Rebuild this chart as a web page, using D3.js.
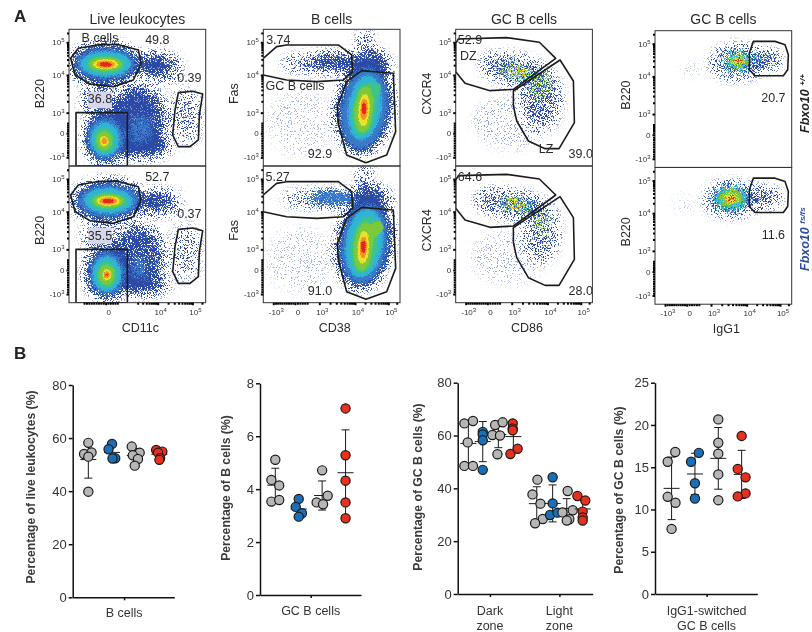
<!DOCTYPE html>
<html>
<head>
<meta charset="utf-8">
<script src="https://cdn.jsdelivr.net/npm/d3@7"></script>
<style>
  body { margin: 0; background: #fff; }
  svg { display: block; font-family: "Liberation Sans", Arial, sans-serif; filter: blur(0.3px); }
</style>
</head>
<body>
<svg class="vis" width="812" height="632"></svg>
<script>

// ---- flow plots: everything is in display channels, 0-410 on both axes

const band_colors = ["#2b4aa6", "#3a78c8", "#30b4d6", "#3cc48c", "#7cc93c", "#ece22a", "#f39222", "#e6261c"];
const band_blur   = [6, 4.5, 3.5, 3, 2.5, 2.2, 1.8, 1.4];
const band_grain  = [1, .7, .45, .35, .35, .3, .3, .3];
const band_floor  = [1, .8, .82, .78, .78, .75, .75, .75];

// [cx, cy, rx, ry, rotation, band, density]
const clouds_leuko_wt = [
  [350, 150, 58, 100, 0, 0, .07], [280, 295, 52, 38, 0, 0, .55], [205, 135, 80, 105, 0, 0, .8],
  [225, 58, 75, 28, 0, 0, .85], [90, 195, 50, 52, 0, 0, .4], [350, 150, 34, 72, 0, 0, .25],
  [215, 110, 34, 50, 0, 1, .55], [250, 305, 46, 25, 0, 0, .9],
  [110, 305, 100, 57, 0, 0, 1], [110, 306, 88, 44, 0, 1, 1], [110, 306, 78, 38, 0, 2, 1],
  [110, 305, 62, 27, 0, 3, 1], [110, 305, 52, 21, 0, 4, 1], [110, 305, 40, 15, 0, 5, 1],
  [110, 305, 30, 11, 0, 6, 1], [110, 305, 21, 7, 0, 7, 1],
  [112, 85, 62, 72, 0, 0, 1], [110, 82, 52, 60, 0, 1, 1], [108, 80, 44, 52, 0, 2, 1],
  [106, 78, 32, 40, 0, 3, 1], [106, 76, 25, 30, 0, 4, 1], [106, 75, 14, 18, 0, 5, 1],
  [106, 75, 9, 11, 0, 6, 1], [106, 74, 5, 6, 0, 7, .9]
];
const clouds_leuko_ko = [
  [350, 150, 58, 100, 0, 0, .07], [282, 300, 50, 36, 0, 0, .45], [205, 135, 78, 100, 0, 0, .68],
  [225, 55, 72, 26, 0, 0, .7], [90, 200, 50, 48, 0, 0, .3], [350, 150, 34, 72, 0, 0, .2],
  [210, 105, 26, 38, 0, 1, .55], [248, 305, 46, 24, 0, 0, .8],
  [118, 305, 100, 57, 0, 0, 1], [118, 306, 90, 46, 0, 1, 1], [118, 306, 76, 38, 0, 2, 1],
  [118, 305, 60, 27, 0, 3, 1], [118, 305, 50, 21, 0, 4, 1], [118, 305, 38, 15, 0, 5, 1],
  [118, 305, 29, 11, 0, 6, 1], [118, 305, 20, 7, 0, 7, 1],
  [115, 90, 62, 74, 0, 0, 1], [113, 88, 50, 62, 0, 1, 1], [113, 86, 44, 54, 0, 2, 1],
  [113, 84, 32, 42, 0, 3, 1], [113, 84, 25, 32, 0, 4, 1], [113, 84, 14, 19, 0, 5, 1],
  [113, 84, 9, 12, 0, 6, 1], [113, 84, 6, 7, 0, 7, .9]
];
const clouds_fas_wt = [
  [110, 130, 100, 100, 0, 0, .06], [190, 308, 135, 24, 0, 0, .42], [215, 312, 62, 19, 0, 0, .95],
  [322, 303, 55, 38, 0, 0, .8], [305, 365, 20, 42, 0, 0, .4],
  [303, 175, 78, 135, 8, 0, 1], [303, 172, 66, 120, 8, 1, 1], [304, 175, 50, 100, 8, 2, 1],
  [302, 170, 36, 82, 8, 3, 1], [338, 228, 18, 24, 20, 3, .9], [302, 170, 28, 72, 6, 4, 1],
  [302, 168, 17, 52, 4, 5, 1], [302, 170, 11, 34, 3, 6, 1], [302, 172, 7, 21, 0, 7, 1]
];
const clouds_fas_ko = [
  [110, 130, 100, 100, 0, 0, .06], [190, 312, 130, 22, 0, 0, .42], [205, 315, 75, 20, 0, 1, .75],
  [322, 308, 55, 38, 0, 0, .8], [305, 368, 20, 42, 0, 0, .4],
  [303, 178, 78, 132, 8, 0, 1], [303, 176, 66, 118, 8, 1, 1], [303, 178, 56, 105, 8, 2, 1],
  [303, 172, 40, 88, 8, 3, 1], [340, 222, 20, 26, 20, 4, .9], [300, 168, 28, 75, 6, 4, 1],
  [300, 166, 17, 52, 4, 5, 1], [300, 166, 11, 34, 3, 6, 1], [300, 168, 7, 22, 0, 7, 1]
];
const clouds_cxcr4_wt = [
  [165, 130, 115, 80, 0, 0, .08], [175, 288, 100, 42, 12, 0, .42], [258, 200, 55, 90, 0, 0, .38],
  [185, 284, 60, 24, 15, 2, .2], [185, 284, 55, 20, 15, 4, .3], [253, 240, 32, 42, 0, 4, .26],
  [185, 282, 34, 14, 15, 5, .3], [188, 280, 20, 9, 15, 6, .36]
];
const clouds_cxcr4_ko = [
  [160, 135, 115, 80, 0, 0, .07], [165, 296, 105, 38, 8, 0, .44], [258, 215, 50, 85, 0, 0, .34],
  [180, 295, 60, 22, 12, 2, .2], [185, 292, 52, 20, 12, 4, .3], [258, 240, 28, 36, 0, 4, .24],
  [185, 295, 30, 13, 12, 5, .32], [188, 293, 18, 9, 12, 6, .38]
];
const clouds_igg_wt = [
  [115, 293, 35, 15, 0, 0, .08], [245, 315, 75, 48, 0, 0, .42], [325, 322, 50, 26, 0, 0, .55],
  [250, 318, 44, 28, 0, 2, .6], [325, 322, 32, 16, 0, 3, .26], [250, 318, 30, 20, 0, 4, .75],
  [250, 318, 17, 12, 0, 5, .8], [250, 318, 9, 6, 0, 7, .6]
];
const clouds_igg_ko = [
  [90, 300, 35, 25, 0, 0, .05], [228, 315, 75, 48, 0, 0, .5], [325, 320, 52, 26, 0, 0, .48],
  [228, 318, 52, 34, 0, 2, .9], [228, 318, 34, 25, 0, 4, 1],
  [228, 318, 19, 15, 0, 5, 1], [228, 318, 10, 8, 0, 7, .75]
];

const gate_bcell = [[5,323],[28,353],[83,363],[143,365],[208,348],[216,308],[193,258],[133,238],[63,246],[18,273]];
const gate_dc    = [[328,220],[371,224],[401,216],[391,153],[388,78],[363,58],[328,58],[311,93],[318,168]];
const gate_rest  = [[21,0],[21,160],[175,160],[175,0]];
const gate_gc    = [[0,323],[40,358],[70,363],[225,363],[265,333],[268,283],[240,258],[160,253],[70,258],[0,273]];
const gate_nongc = [[295,286],[390,278],[397,103],[370,33],[308,10],[250,33],[225,128],[222,178],[250,253]];
const gate_dz    = [[8,381],[153,385],[251,371],[300,323],[173,230],[103,226],[28,248],[0,283],[0,368]];
const gate_lz    = [[173,225],[313,318],[353,255],[356,130],[310,52],[268,52],[218,75],[183,135],[173,180]];
const gate_igg   = [[295,378],[360,378],[390,368],[400,338],[398,293],[385,275],[300,275],[283,293],[283,343]];

// [text, x channel, y channel]
const notes_leuko_wt = [["B cells", 93, 386], ["49.8", 265, 380], ["0.39", 361, 266], ["36.8", 93, 202]];
const notes_leuko_ko = [["52.7", 265, 380], ["0.37", 361, 267], ["35.5", 93, 203]];
const notes_fas_wt   = [["3.74", 45, 378], ["GC B cells", 95, 240], ["92.9", 170, 38]];
const notes_fas_ko   = [["5.27", 43, 380], ["91.0", 170, 38]];
const notes_cx_wt    = [["52.9", 43, 378], ["DZ", 38, 330], ["LZ", 271, 51], ["39.0", 375, 36]];
const notes_cx_ko    = [["64.6", 43, 380], ["28.0", 375, 37]];
const notes_igg_wt   = [["20.7", 355, 211]];
const notes_igg_ko   = [["11.6", 355, 210]];

const y_tick_values = [-1000, 0, 1000, 10000, 100000];
const x_ticks_cd11c = [0, 10000, 100000];
const x_ticks_full  = [-1000, 0, 1000, 10000, 100000];

// ---- dot plots, dodge is in dot radii

const colors_group = ["#b6b6b6", "#1b6fb8", "#b6b6b6", "#e8301f"];

const pct_bcells = [[58.2, 54, 54.6, 53, 39.8], [57.8, 55.8, 52.4, 52.3], [56.8, 54.5, 53.5, 52.1, 49.6], [55.5, 54.9, 54.5, 52.4, 51.8]];
const dodge_bcells = [[0, -.93, .7, 0, 0], [0, -.75, .7, .1], [-.65, 1.07, -.43, .7, 0], [-.7, .65, -.3, .15, 0]];
const mean_bcells = [51.9, 54.6, 53.4, 53.9];
const sd_bcells = [7, 2.6, 2.7, 1.7];

const pct_gc = [[5.11, 4.35, 4.14, 3.53, 3.59], [3.63, 3.33, 3.09, 2.96], [4.71, 3.75, 3.5, 3.43], [7.05, 5.28, 4.32, 3.5, 2.9]];
const dodge_gc = [[0, -.85, .85, -.85, .85], [0, -.65, .7, 0], [0, 1.2, -1.2, .2], [0, 0, 0, 0, 0]];
const mean_gc = [4.15, 3.25, 3.76, 4.62];
const sd_gc = [.64, .32, .55, 1.62];

const pct_zone = [
  [64.6, 65.5, 57.4, 48.5, 48.5], [61.4, 60.4, 58.2, 47], [64, 65, 60.2, 60, 52.9], [64.6, 62.7, 62, 53, 55],
  [43.3, 37.7, 34.2, 28.4, 26.8], [44.2, 34.3, 29.9, 30.8], [39, 31.7, 30.9, 28.3, 27.8], [37.1, 35.4, 31.2, 29, 27.8]
];
const dodge_zone = [
  [-.86, 1, -.14, -.86, 1], [0, 0, 0, 0], [-.7, .93, -1.3, .36, -.2], [-.14, -.14, -.14, -.64, .93],
  [.14, -.93, .8, 1.3, -.36], [0, 0, -.57, 1.07], [.2, 1.3, -.93, .57, 0], [-1.14, .57, 0, 0, 0]
];
const mean_zone = [57, 57.7, 60.4, 59.6, 34.2, 34.3, 32.4, 32.2];
const sd_zone = [8.5, 7.6, 5, 5.7, 6.4, 7, 3.7, 4.5];

const pct_igg = [[16.8, 15.65, 11.5, 10.8, 7.7], [16.7, 15.65, 13.1, 11.3], [20.66, 17.9, 16.6, 14.15, 11.1], [18.7, 14.8, 13.8, 11.9, 11.55]];
const dodge_igg = [[.8, -.85, -.85, .85, 0], [.85, -.85, 0, 0], [0, 0, 0, 0, 0], [0, -.85, .85, .85, -.85]];
const mean_igg = [12.5, 14.2, 16.05, 14.15];
const sd_igg = [3.7, 2.45, 3.65, 2.85];

const vis = {

  dims: { chan: 410, size: 136.7, r: 4.6 },

  sels: { svg: null, defs: null },

  flow: [
    { x: 69,    y: 29.3, xlab: "CD11c", ylab: "B220",  title: "Live leukocytes", clouds: clouds_leuko_wt, gates: [gate_bcell, gate_dc, gate_rest], notes: notes_leuko_wt, lavender: [58, 128, 173, 223] },
    { x: 69,    y: 166,  xlab: "CD11c", ylab: "B220",  clouds: clouds_leuko_ko, gates: [gate_bcell, gate_dc, gate_rest], notes: notes_leuko_ko, lavender: [58, 128, 177, 225], xticks: x_ticks_cd11c },
    { x: 263.3, y: 29.3, xlab: "CD38",  ylab: "Fas",   title: "B cells", clouds: clouds_fas_wt, gates: [gate_gc, gate_nongc], notes: notes_fas_wt },
    { x: 263.3, y: 166,  xlab: "CD38",  ylab: "Fas",   clouds: clouds_fas_ko, gates: [gate_gc, gate_nongc], notes: notes_fas_ko, xticks: x_ticks_full },
    { x: 455.7, y: 29.3, xlab: "CD86",  ylab: "CXCR4", title: "GC B cells", sparse: true, clouds: clouds_cxcr4_wt, gates: [gate_dz, gate_lz], notes: notes_cx_wt },
    { x: 455.7, y: 166,  xlab: "CD86",  ylab: "CXCR4", sparse: true, clouds: clouds_cxcr4_ko, gates: [gate_dz, gate_lz], notes: notes_cx_ko, xticks: x_ticks_full },
    { x: 655,   y: 30.7, xlab: "IgG1",  ylab: "B220",  title: "GC B cells", sparse: true, clouds: clouds_igg_wt, gates: [gate_igg], notes: notes_igg_wt },
    { x: 655,   y: 167.5, xlab: "IgG1", ylab: "B220",  sparse: true, clouds: clouds_igg_ko, gates: [gate_igg], notes: notes_igg_ko, xticks: x_ticks_full }
  ],

  dots: [
    { values: pct_bcells, dodge: dodge_bcells, mean: mean_bcells, sd: sd_bcells, slots: [0, 1, 1.96, 3], colors: colors_group,
      title: "Percentage of live leukocytes (%)", tx: 35, ty: 487,
      y: { max: 80, ticks: [0, 20, 40, 60, 80], top: 385, bottom: 597.3 },
      x: { domain: [-.66, 3.63], range: [72.7, 174.3] }, cats: [[1.51, ["B cells"]]], cy: 612.5 },
    { values: pct_gc, dodge: dodge_gc, mean: mean_gc, sd: sd_gc, slots: [0, 1, 2, 3], colors: colors_group,
      title: "Percentage of B cells (%)", tx: 230, ty: 488,
      y: { max: 8, ticks: [0, 2, 4, 6, 8], top: 383.3, bottom: 595 },
      x: { domain: [-.654, 3.66], range: [260, 361] }, cats: [[1.51, ["GC B cells"]]], cy: 610 },
    { values: pct_zone, dodge: dodge_zone, mean: mean_zone, sd: sd_zone, slots: [0, .96, 2, 3, 4.56, 5.62, 6.56, 7.62],
      colors: colors_group.concat(colors_group),
      title: "Percentage of GC B cells (%)", tx: 422.3, ty: 487,
      y: { max: 80, ticks: [0, 20, 40, 60, 80], top: 382.7, bottom: 594 },
      x: { domain: [-.71, 8.29], range: [457.7, 592.7] }, cats: [[1.44, ["Dark", "zone"]], [6.07, ["Light", "zone"]]], cy: 610 },
    { values: pct_igg, dodge: dodge_igg, mean: mean_igg, sd: sd_igg, slots: [0, 1, 2, 3], colors: colors_group,
      title: "Percentage of GC B cells (%)", tx: 622.7, ty: 490,
      y: { max: 25, ticks: [0, 5, 10, 15, 20, 25], top: 382.7, bottom: 594 },
      x: { domain: [-.71, 3.67], range: [655, 757.3] }, cats: [[1.5, ["IgG1-switched", "GC B cells"]]], cy: 610 }
  ],

  init: function() {

    vis.sels.svg = d3.select("svg.vis");
    vis.sels.defs = vis.sels.svg.append("defs");

    vis.f.make_grain("grain", band_grain, band_floor);
    vis.f.make_grain("speck", band_grain.map(() => 1), band_floor.map(() => 1));
    vis.flow.forEach(vis.draw.flow_panel);
    vis.dots.forEach(vis.draw.dot_panel);
    vis.draw.headings();

  },

  f: {

    // dotty look of the flow plots: blurred density + noise, thresholded
    make_grain: function(name, amounts, floors) {

      band_colors.forEach((color, i) => {

        let filter = vis.sels.defs.append("filter")
          .attr("id", name + i)
          .attr("x", "-100%").attr("y", "-100%")
          .attr("width", "300%").attr("height", "300%")
          .attr("color-interpolation-filters", "sRGB");

        filter.append("feGaussianBlur")
          .attr("in", "SourceGraphic").attr("stdDeviation", band_blur[i]).attr("result", "soft");

        filter.append("feTurbulence")
          .attr("type", "fractalNoise").attr("baseFrequency", 1.3).attr("numOctaves", 1)
          .attr("seed", 3 + i * 5).attr("result", "noise");

        filter.append("feColorMatrix")
          .attr("in", "noise").attr("type", "matrix")
          .attr("values", "0 0 0 0 0 0 0 0 0 0 0 0 0 0 0 3.5 0 0 0 -1.25")
          .attr("result", "dither");

        filter.append("feComposite")
          .attr("in", "soft").attr("in2", "dither").attr("operator", "arithmetic")
          .attr("k1", 0).attr("k2", 1.4).attr("k3", amounts[i]).attr("k4", -floors[i])
          .attr("result", "sum");

        let steep = filter.append("feComponentTransfer").attr("in", "sum").attr("result", "mask");
        steep.append("feFuncA").attr("type", "linear").attr("slope", 5);

        filter.append("feFlood").attr("flood-color", color).attr("result", "paint");
        filter.append("feComposite").attr("in", "paint").attr("in2", "mask").attr("operator", "in").attr("result", "dots");
        filter.append("feGaussianBlur").attr("in", "dots").attr("stdDeviation", .35);

      });

    },

    // biexponential display: linear around 0, log above 10^3
    to_channel: function(stops) {

      let lin = d3.scaleLinear().domain([-1000, 0, 1000]).range([stops[0], stops[1], stops[2]]);
      let log = d3.scaleLog().domain([1000, 10000, 100000, 262144]).range([stops[2], stops[3], stops[4], 410]);
      return v => v <= 1000 ? lin(v) : log(v);

    },

    minor_values: function() {

      let out = [-900, -800, -700, -600, -500, -400, -300, -200, -100, 100, 200, 300, 400, 500];
      [1000, 10000, 100000].forEach(dec => d3.range(2, 10).forEach(m => {
        if (dec * m < 262144) out.push(dec * m);
      }));
      return out;

    },

    power_label: function(sel, v) {

      sel.text(null);
      if (v === 0) { sel.text("0"); return; }
      sel.append("tspan").text((v < 0 ? "-" : "") + "10");
      sel.append("tspan").attr("dy", -3).attr("font-size", 6).text(Math.round(Math.log10(Math.abs(v))));

    }

  },

  draw: {

    flow_panel: function(p, i) {

      let svg = vis.sels.svg;
      let d = vis.dims;

      let x = d3.scaleLinear().domain([0, d.chan]).range([p.x, p.x + d.size]);
      let y = d3.scaleLinear().domain([0, d.chan]).range([p.y + d.size, p.y]);

      let clip = "panel" + i;
      vis.sels.defs.append("clipPath").attr("id", clip)
        .append("rect").attr("x", p.x).attr("y", p.y).attr("width", d.size).attr("height", d.size);

      let plot = svg.append("g").attr("clip-path", `url(#${clip})`);

      d3.range(band_colors.length).forEach(band => {

        let rows = p.clouds.filter(c => c[5] === band);
        if (!rows.length) return;

        plot.append("g")
          .attr("filter", `url(#${p.sparse ? "speck" : "grain"}${band})`)
          .selectAll("ellipse")
          .data(rows)
          .join("ellipse")
          .attr("cx", c => x(c[0]))
          .attr("cy", c => y(c[1]))
          .attr("rx", c => x(c[2]) - x(0))
          .attr("ry", c => y(0) - y(c[3]))
          .attr("transform", c => `rotate(${c[4]} ${x(c[0])} ${y(c[1])})`)
          .attr("fill", "#000")
          .attr("fill-opacity", c => c[6]);

      });

      if (p.lavender) {
        plot.append("rect")
          .attr("x", x(p.lavender[0])).attr("y", y(p.lavender[3]))
          .attr("width", x(p.lavender[1]) - x(p.lavender[0]))
          .attr("height", y(p.lavender[2]) - y(p.lavender[3]))
          .attr("fill", "#d6d7ec");
      }

      let outline = d3.line().x(g => x(g[0])).y(g => y(g[1])).curve(d3.curveLinearClosed);

      plot.selectAll("path.gate")
        .data(p.gates)
        .join("path")
        .attr("class", "gate")
        .attr("d", outline)
        .attr("fill", "none")
        .attr("stroke", "#1c1c1c")
        .attr("stroke-width", 1.6)
        .attr("stroke-linejoin", "round");

      plot.selectAll("text.note")
        .data(p.notes)
        .join("text")
        .attr("class", "note")
        .attr("x", n => x(n[1]))
        .attr("y", n => y(n[2]))
        .attr("text-anchor", "middle")
        .attr("dy", "0.36em")
        .attr("font-size", 12.5)
        .attr("fill", "#2a2a2a")
        .text(n => n[0]);

      svg.append("rect")
        .attr("x", p.x).attr("y", p.y).attr("width", d.size).attr("height", d.size)
        .attr("fill", "none").attr("stroke", "#333").attr("stroke-width", 1);

      // axes
      let y_chan = vis.f.to_channel([26, 98, 160, 273, 371]);
      let x_chan = p.xlab === "CD11c"
        ? vis.f.to_channel([38, 110, 180, 266, 370])
        : vis.f.to_channel([30, 95, 168, 275, 375]);
      let minor = vis.f.minor_values();

      let y_axis = svg.append("g").attr("transform", `translate(${p.x},0)`)
        .call(d3.axisLeft(y).tickValues(minor.map(y_chan)).tickSize(2).tickFormat(""));
      y_axis.append("g")
        .call(d3.axisLeft(y).tickValues(y_tick_values.map(y_chan)).tickSize(2.5).tickPadding(2)
          .tickFormat((_, k) => ""))
        .selectAll("text")
        .attr("font-size", 8).attr("fill", "#333")
        .each(function(_, k) { vis.f.power_label(d3.select(this), y_tick_values[k]); });
      y_axis.selectAll(".domain").remove();
      y_axis.selectAll("line").attr("stroke", "#000").attr("stroke-width", 1);
      y_axis.selectAll("g g line").attr("stroke-width", 2);

      if (p.xticks) {

        let x_axis = svg.append("g").attr("transform", `translate(0,${p.y + d.size})`)
          .call(d3.axisBottom(x).tickValues(minor.map(x_chan)).tickSize(2).tickFormat(""));
        x_axis.append("g")
          .call(d3.axisBottom(x).tickValues(p.xticks.map(x_chan)).tickSize(2.5).tickPadding(4).tickFormat(""))
          .selectAll("text")
          .attr("font-size", 8).attr("fill", "#333").attr("dx", 2.5)
          .each(function(_, k) { vis.f.power_label(d3.select(this), p.xticks[k]); });
        x_axis.selectAll(".domain").remove();
        x_axis.selectAll("line").attr("stroke", "#000").attr("stroke-width", 1);
        x_axis.selectAll("g g line").attr("stroke-width", 2);

        svg.append("text")
          .attr("x", x(d.chan / 2) + 3).attr("y", p.y + d.size + 29)
          .attr("text-anchor", "middle").attr("font-size", 12.5).attr("fill", "#2a2a2a")
          .text(p.xlab);

      }

      svg.append("text")
        .attr("transform", `translate(${p.x - 25},${y(d.chan / 2) - 4}) rotate(-90)`)
        .attr("text-anchor", "middle").attr("font-size", 12.5).attr("fill", "#2a2a2a")
        .text(p.ylab);

      if (p.title) {
        svg.append("text")
          .attr("x", x(d.chan / 2)).attr("y", 24)
          .attr("text-anchor", "middle").attr("font-size", 14).attr("fill", "#2a2a2a")
          .text(p.title);
      }

    },

    dot_panel: function(p) {

      let svg = vis.sels.svg;

      let x = d3.scaleLinear().domain(p.x.domain).range(p.x.range);
      let y = d3.scaleLinear().domain([0, p.y.max]).range([p.y.bottom, p.y.top]);
      let nudge = d3.scaleLinear().domain([-1, 1]).range([-vis.dims.r, vis.dims.r]);

      let frame = [
        d3.axisLeft(y).tickValues(p.y.ticks).tickSize(4).tickPadding(2).tickSizeOuter(0),
        d3.axisBottom(x).tickValues(p.cats.map(c => c[0])).tickSize(3).tickFormat("").tickSizeOuter(0)
      ];

      let y_axis = svg.append("g").attr("transform", `translate(${p.x.range[0]},0)`).call(frame[0]);
      let x_axis = svg.append("g").attr("transform", `translate(0,${p.y.bottom})`).call(frame[1]);

      [y_axis, x_axis].forEach(a => {
        a.selectAll("path, line").attr("stroke", "#111").attr("stroke-width", 1.5);
        a.selectAll("text").attr("font-size", 13).attr("fill", "#333");
      });

      svg.append("text")
        .attr("transform", `translate(${p.tx},${p.ty}) rotate(-90)`)
        .attr("text-anchor", "middle").attr("font-size", 12.2).attr("font-weight", "bold").attr("fill", "#3a3a3a")
        .text(p.title);

      p.cats.forEach(c => {
        c[1].forEach((line, k) => {
          svg.append("text")
            .attr("x", x(c[0])).attr("y", p.cy + k * 15)
            .attr("dy", "0.36em")
            .attr("text-anchor", "middle").attr("font-size", 12.5).attr("fill", "#333")
            .text(line);
        });
      });

      p.slots.forEach((slot, g) => {

        let cx = x(slot);
        let marks = svg.append("g").attr("stroke", "#1a1a1a").attr("stroke-width", 1);

        marks.append("line").attr("x1", cx).attr("x2", cx)
          .attr("y1", y(p.mean[g] - p.sd[g])).attr("y2", y(p.mean[g] + p.sd[g]));

        marks.append("line").attr("x1", cx - 8).attr("x2", cx + 8)
          .attr("y1", y(p.mean[g])).attr("y2", y(p.mean[g]));

        [-1, 1].forEach(side => {
          marks.append("line").attr("x1", cx - 4).attr("x2", cx + 4)
            .attr("y1", y(p.mean[g] + side * p.sd[g])).attr("y2", y(p.mean[g] + side * p.sd[g]));
        });

        svg.append("g").selectAll("circle")
          .data(p.values[g])
          .join("circle")
          .attr("cx", (_, k) => cx + nudge(p.dodge[g][k]))
          .attr("cy", v => y(v))
          .attr("r", vis.dims.r)
          .attr("fill", p.colors[g])
          .attr("stroke", "#1a1a1a")
          .attr("stroke-width", 1.2);

      });

    },

    headings: function() {

      let svg = vis.sels.svg;

      [["A", 22], ["B", 359]].forEach(h => {
        svg.append("text")
          .attr("x", 14).attr("y", h[1])
          .attr("font-size", 17).attr("font-weight", "bold").attr("fill", "#222")
          .text(h[0]);
      });

      [["Fbxo10", "+/+", 133, "#222"], ["Fbxo10", "fs/fs", 271, "#2c4da0"]].forEach(t => {
        let label = svg.append("text")
          .attr("transform", `translate(809,${t[2]}) rotate(-90)`)
          .attr("font-size", 12.5).attr("font-weight", "bold").attr("font-style", "italic").attr("fill", t[3]);
        label.append("tspan").text(t[0] + " ");
        label.append("tspan").attr("dy", -4).attr("font-size", 8).text(t[1]);
      });

    }

  }

};

vis.init();

</script>
</body>
</html>
